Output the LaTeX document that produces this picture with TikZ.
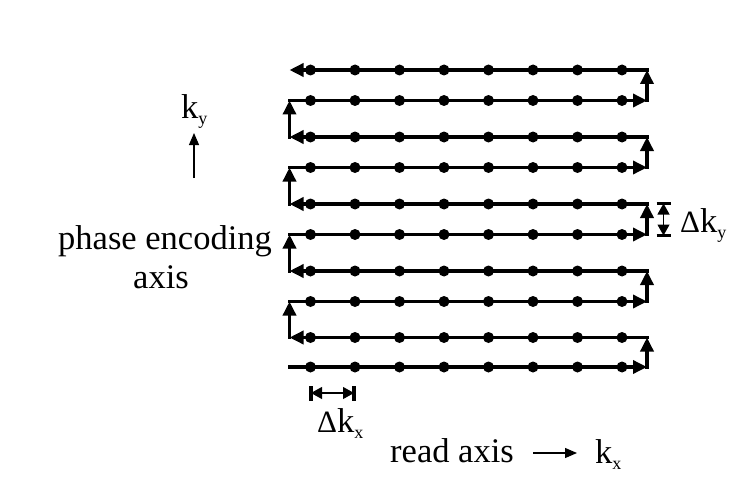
\documentclass[tikz,border=0pt]{standalone}
\usepackage{fontspec}
\setmainfont{Liberation Serif}
\usetikzlibrary{arrows.meta}
\newcommand\subl[1]{\raisebox{-6pt}{\fontsize{18}{18}\selectfont #1}}
\newcommand\dlt{{\fontsize{31}{31}\selectfont Δ}}
\begin{document}
\begin{tikzpicture}[x=1pt,y=-1pt,
  trail/.style={line width=3.4pt, line cap=rect, -{Triangle[length=14pt,width=13pt]}},
  dot/.style={circle, fill=black, inner sep=0pt, minimum size=11pt},
  lbl/.style={inner sep=0pt, anchor=base west, font=\fontsize{34.5}{40}\selectfont},
  thinarrow/.style={line width=1.1pt, -{Triangle[length=12pt,width=10pt]}},
  gap/.style={line width=1.1pt, {Triangle[length=11pt,width=12pt]}-{Triangle[length=11pt,width=12pt]}},
  bar/.style={line width=3.4pt},
  ]
\useasboundingbox (0,0) rectangle (754,492);
% corners of the trajectory
\foreach \y [count=\i] in {70,100.5,137,167.5,204,234.5,271,301.5,337.5,367}{
  \coordinate (L\i) at (289.5,\y);
  \coordinate (R\i) at (647,\y);
}
% trajectory
\draw[trail] (L10) -- (R10);
\draw[trail] (R10) -- (R9);
\draw[trail] (R9) -- (L9);
\draw[trail] (L9) -- (L8);
\draw[trail] (L8) -- (R8);
\draw[trail] (R8) -- (R7);
\draw[trail] (R7) -- (L7);
\draw[trail] (L7) -- (L6);
\draw[trail] (L6) -- (R6);
\draw[trail] (R6) -- (R5);
\draw[trail] (R5) -- (L5);
\draw[trail] (L5) -- (L4);
\draw[trail] (L4) -- (R4);
\draw[trail] (R4) -- (R3);
\draw[trail] (R3) -- (L3);
\draw[trail] (L3) -- (L2);
\draw[trail] (L2) -- (R2);
\draw[trail] (R2) -- (R1);
\draw[trail] (R1) -- (L1);
% sample points
\foreach \y [count=\i] in {70,100.5,137,167.5,204,234.5,271,301.5,337.5,367}{
  \foreach \j in {0,...,7}{
    \node[dot] (d\i-\j) at ({310.5+44.5*\j},\y) {};
  }
}
% delta kx marker
\coordinate (dxa) at (311,393);
\coordinate (dxb) at (354,393);
\draw[bar] (311,386) -- (311,400.5);
\draw[bar] (354,386) -- (354,400.5);
\draw[gap] (dxa) -- (dxb);
% delta ky marker
\coordinate (dya) at (663.5,203.5);
\coordinate (dyb) at (663.5,235.5);
\draw[bar] (656.5,203.5) -- (670.5,203.5);
\draw[bar] (656.5,235.5) -- (670.5,235.5);
\draw[gap] (dya) -- (dyb);
% axis arrows
\coordinate (kya) at (194,178);
\coordinate (kyb) at (194,133);
\draw[thinarrow] (kya) -- (kyb);
\coordinate (kxa) at (533,453);
\coordinate (kxb) at (577,453);
\draw[thinarrow] (kxa) -- (kxb);
% labels
\node[lbl] (ky) at (181,118) {k\subl{y}};
\node[lbl] (pe) at (58,249) {phase encoding};
\node[lbl, anchor=base] (ax) at (161,288) {axis};
\node[lbl] (dky) at (680,232) {\dlt k\subl{y}};
\node[lbl] (dkx) at (317,432) {\dlt k\subl{x}};
\node[lbl] (ra) at (390,462) {read axis};
\node[lbl] (kx) at (595,463) {k\subl{x}};
\end{tikzpicture}
\end{document}
